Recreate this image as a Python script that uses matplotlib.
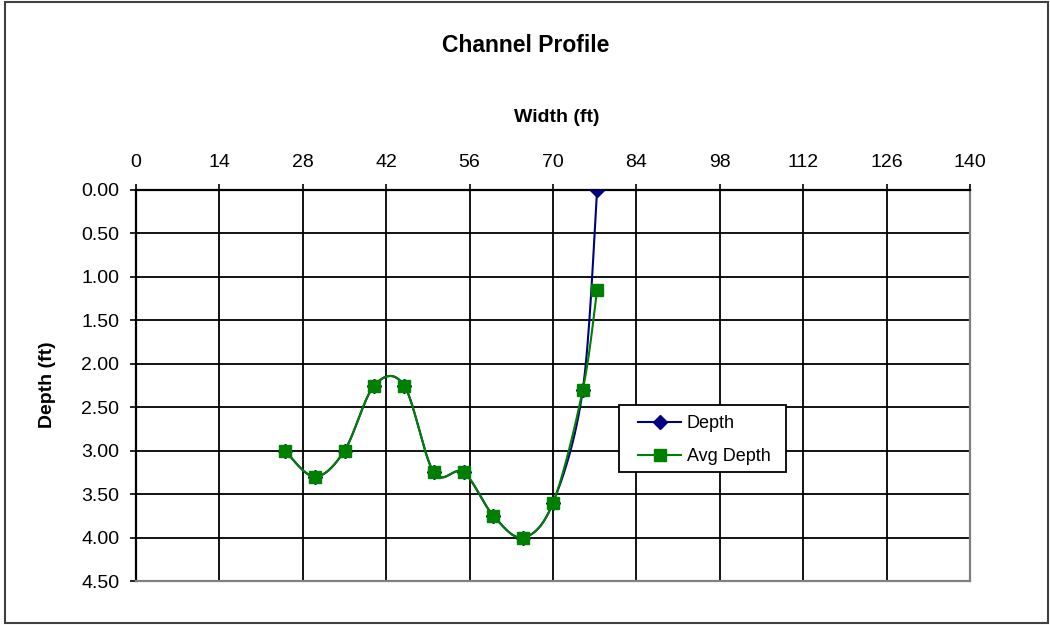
import numpy as np
import matplotlib
matplotlib.use("Agg")
import matplotlib.pyplot as plt
from matplotlib.patches import Rectangle
from matplotlib.lines import Line2D

plt.rcParams['font.family'] = ['Liberation Sans', 'DejaVu Sans']

# ---- data ----
width_ft = [25, 30, 35, 40, 45, 50, 55, 60, 65, 70, 75, 77.4]
depth = [3.0, 3.3, 3.0, 2.25, 2.25, 3.25, 3.25, 3.75, 4.0, 3.6, 2.3, 0.0]
avg_depth = [3.0, 3.3, 3.0, 2.25, 2.25, 3.25, 3.25, 3.75, 4.0, 3.6, 2.3, 1.15]
x_ticks = [0, 14, 28, 42, 56, 70, 84, 98, 112, 126, 140]
y_ticks = [0.0, 0.5, 1.0, 1.5, 2.0, 2.5, 3.0, 3.5, 4.0, 4.5]


def smooth(xs, ys, n=30):
    """Excel-like smoothed line (Catmull-Rom Bezier)."""
    P = np.column_stack([xs, ys]).astype(float)
    m = len(P)
    out = [P[0]]
    t = np.linspace(0, 1, n)[1:, None]
    for i in range(m - 1):
        p0 = P[i - 1] if i > 0 else P[i]
        p1 = P[i]
        p2 = P[i + 1]
        p3 = P[i + 2] if i + 2 < m else P[i + 1]
        c1 = p1 + (p2 - p0) / 6.0
        c2 = p2 - (p3 - p1) / 6.0
        seg = ((1 - t) ** 3) * p1 + 3 * ((1 - t) ** 2) * t * c1 + 3 * (1 - t) * t ** 2 * c2 + t ** 3 * p2
        out.extend(seg)
    out = np.array(out)
    return out[:, 0], out[:, 1]


W, H = 1050, 625
fig = plt.figure(figsize=(W / 100, H / 100), dpi=100)
ax = fig.add_axes([136 / W, 1 - 581 / H, (970 - 136) / W, (581 - 190) / H])

navy = '#000080'
green = '#008000'

sx, sy = smooth(width_ft, depth)
ax.plot(sx, sy, color=navy, lw=1.5, zorder=3)
ax.plot(width_ft, depth, ls='none', marker='D', ms=7, color=navy, zorder=3)

sx, sy = smooth(width_ft, avg_depth)
ax.plot(sx, sy, color=green, lw=1.5, zorder=4)
ax.plot(width_ft, avg_depth, ls='none', marker='s', ms=9, color=green, zorder=4)

ax.set_xlim(0, 140)
ax.set_ylim(4.5, 0)
ax.xaxis.tick_top()
ax.xaxis.set_label_position('top')
ax.set_xticks(x_ticks)
ax.set_xticklabels([str(v) for v in x_ticks])
ax.set_yticks(y_ticks)
ax.set_yticklabels([f"{v:.2f}" for v in y_ticks])
ax.tick_params(axis='both', direction='out', length=4, width=1.2, color='black',
               labelsize=14, pad=8)
ax.tick_params(axis='x', pad=10)
ax.grid(True, color='black', lw=1.3)
ax.set_axisbelow(True)
for s in ['left', 'top']:
    ax.spines[s].set_color('black')
    ax.spines[s].set_linewidth(1.6)
for s in ['right', 'bottom']:
    ax.spines[s].set_color('#808080')
    ax.spines[s].set_linewidth(1.6)

fig.text(526 / W, 1 - 45 / H, 'Channel Profile', ha='center', va='center',
         fontsize=16.5, fontweight='bold')
fig.text(557 / W, 1 - 117 / H, 'Width (ft)', ha='center', va='center',
         fontsize=14, fontweight='bold')
fig.text(47 / W, 1 - 385 / H, 'Depth (ft)', ha='center', va='center',
         fontsize=14, fontweight='bold', rotation=90)

# legend frame
leg_frame = Rectangle((619 / W, 1 - 472 / H), (786 - 619) / W, (472 - 405) / H,
                      transform=fig.transFigure, facecolor='white',
                      edgecolor='black', lw=1.3, zorder=9)
ax.add_artist(leg_frame)
leg_frame.set_clip_on(False)

handles = [Line2D([], [], color=navy, lw=1.5, marker='D', ms=7),
           Line2D([], [], color=green, lw=1.5, marker='s', ms=9)]
leg = ax.legend(handles, ['Depth', 'Avg Depth'], loc='center left',
                bbox_to_anchor=(638 / W, 1 - 440 / H), bbox_transform=fig.transFigure,
                frameon=False, fontsize=13, handlelength=2.4, handletextpad=0.3,
                borderpad=0, labelspacing=0.9, borderaxespad=0)
leg.set_zorder(10)

fig.patches.append(Rectangle((5 / W, 2 / H), (1048 - 5) / W, (623 - 2) / H,
                             transform=fig.transFigure, fill=False,
                             edgecolor='#404040', lw=1.5))

fig.savefig('out.png', dpi=100)
